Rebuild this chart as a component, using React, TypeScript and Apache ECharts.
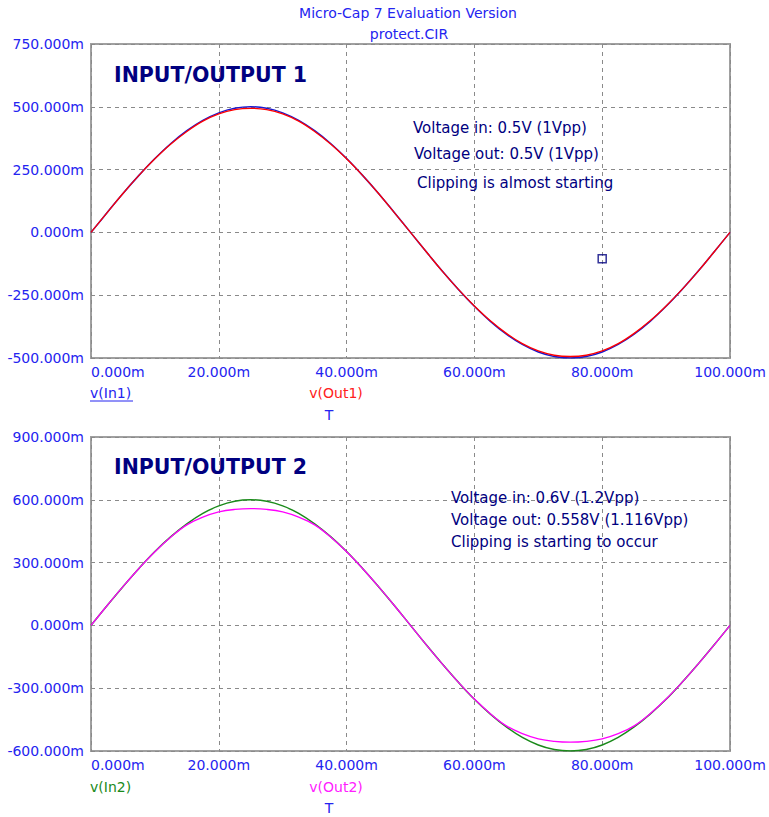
import React, { useEffect, useRef } from "react";
import * as echarts from "echarts";

// time in ms (milli-seconds, axis shows "m" suffix)
const times = [
  0, 2.5, 5, 7.5, 10, 12.5, 15, 17.5, 20, 22.5, 25, 27.5, 30, 32.5, 35, 37.5, 40, 42.5, 45, 47.5,
  50, 52.5, 55, 57.5, 60, 62.5, 65, 67.5, 70, 72.5, 75, 77.5, 80, 82.5, 85, 87.5, 90, 92.5, 95, 97.5, 100,
];

// values in mV
const in1 = [
  0, 78, 155, 227, 294, 354, 405, 446, 476, 494, 500, 494, 476, 446, 405, 354, 294, 227, 155, 78,
  0, -78, -155, -227, -294, -354, -405, -446, -476, -494, -500, -494, -476, -446, -405, -354, -294, -227, -155, -78, 0,
];
const out1 = [
  0, 78, 155, 227, 293, 352, 402, 443, 472, 489, 494, 489, 472, 443, 402, 352, 293, 227, 155, 78,
  0, -78, -155, -227, -293, -352, -402, -443, -472, -489, -494, -489, -472, -443, -402, -352, -293, -227, -155, -78, 0,
];
const in2 = [
  0, 94, 185, 272, 353, 424, 485, 535, 571, 593, 600, 593, 571, 535, 485, 424, 353, 272, 185, 94,
  0, -94, -185, -272, -353, -424, -485, -535, -571, -593, -600, -593, -571, -535, -485, -424, -353, -272, -185, -94, 0,
];
const out2 = [
  0, 94, 185, 272, 352, 422, 480, 517, 542, 554, 558, 554, 542, 517, 480, 422, 352, 272, 185, 94,
  0, -94, -185, -272, -352, -422, -480, -517, -542, -554, -558, -554, -542, -517, -480, -422, -352, -272, -185, -94, 0,
];

const cursorPoint = [80, -105];

const titleLines = ["Micro-Cap 7 Evaluation Version", "protect.CIR"];
const panelTitles = ["INPUT/OUTPUT 1", "INPUT/OUTPUT 2"];
const notes1 = ["Voltage in: 0.5V (1Vpp)", "Voltage out: 0.5V (1Vpp)", "Clipping is almost starting"];
const notes2 = ["Voltage in: 0.6V (1.2Vpp)", "Voltage out: 0.558V (1.116Vpp)", "Clipping is starting to occur"];
const legend1 = ["v(In1)", "v(Out1)", "T"];
const legend2 = ["v(In2)", "v(Out2)", "T"];

const FONT = '"DejaVu Sans", sans-serif';
const TICK_BLUE = "#2424f0";
const NAVY = "#000080";
const GRID_GRAY = "#8a8a8a";

function pairs(ys: number[]) {
  return times.map((t, i) => [t, ys[i]]);
}

export default function App() {
  const ref = useRef<HTMLDivElement>(null);
  useEffect(() => {
    if (!ref.current) return;
    const chart = echarts.init(ref.current, undefined, { renderer: "svg" });
    const fmt = (v: number) => `${v.toFixed(3)}m`;
    const xAxisBase = (gridIndex: number) => ({
      type: "value" as const,
      gridIndex,
      min: 0,
      max: 100,
      interval: 20,
      axisLine: { show: false },
      axisTick: { show: false },
      axisLabel: {
        color: TICK_BLUE,
        fontFamily: FONT,
        fontSize: 14,
        margin: 7,
        formatter: fmt,
        alignMinLabel: "left",
      },
      splitLine: { show: true, lineStyle: { color: GRID_GRAY, type: [4, 4], width: 1 } },
    });
    const yAxisBase = (gridIndex: number, min: number, max: number, interval: number) => ({
      type: "value" as const,
      gridIndex,
      min,
      max,
      interval,
      axisLine: { show: false },
      axisTick: { show: false },
      axisLabel: {
        color: TICK_BLUE,
        fontFamily: FONT,
        fontSize: 14,
        margin: 7,
        formatter: fmt,
      },
      splitLine: { show: true, lineStyle: { color: GRID_GRAY, type: [4, 4], width: 1 } },
    });

    const textEl = (text: string, x: number, y: number, fill: string, font: string, align = "left") => ({
      type: "text",
      x,
      y,
      style: { text, fill, font, align, verticalAlign: "middle" },
      z: 10,
    });

    const graphic: any[] = [
      textEl(titleLines[0], 408, 13, TICK_BLUE, `14px ${FONT}`, "center"),
      textEl(titleLines[1], 409, 34, TICK_BLUE, `14px ${FONT}`, "center"),
      textEl(panelTitles[0], 114, 75, NAVY, `bold 20.5px ${FONT}`),
      textEl(panelTitles[1], 114, 467, NAVY, `bold 20.5px ${FONT}`),
      textEl(notes1[0], 413, 128, NAVY, `15px ${FONT}`),
      textEl(notes1[1], 414, 154, NAVY, `15px ${FONT}`),
      textEl(notes1[2], 417, 183, NAVY, `15px ${FONT}`),
      textEl(notes2[0], 451, 498, NAVY, `15px ${FONT}`),
      textEl(notes2[1], 451, 520, NAVY, `15px ${FONT}`),
      textEl(notes2[2], 451, 542, NAVY, `15px ${FONT}`),
      textEl(legend1[0], 90, 393, TICK_BLUE, `14px ${FONT}`),
      {
        type: "line",
        shape: { x1: 90, y1: 401, x2: 133, y2: 401 },
        style: { stroke: TICK_BLUE, lineWidth: 1 },
      },
      textEl(legend1[1], 336, 393, "#ff2020", `14px ${FONT}`, "center"),
      textEl(legend1[2], 329, 415, TICK_BLUE, `14px ${FONT}`, "center"),
      textEl(legend2[0], 90, 787, "#1a8a1a", `14px ${FONT}`),
      textEl(legend2[1], 336, 787, "#ff20ff", `14px ${FONT}`, "center"),
      textEl(legend2[2], 329, 808, TICK_BLUE, `14px ${FONT}`, "center"),
    ];

    chart.setOption({
      animation: false,
      backgroundColor: "#ffffff",
      grid: [
        { left: 91, top: 44, width: 639, height: 314, show: true, borderColor: "#a0a0a0", borderWidth: 2, backgroundColor: "transparent" },
        { left: 91, top: 437, width: 639, height: 314, show: true, borderColor: "#a0a0a0", borderWidth: 2, backgroundColor: "transparent" },
      ],
      xAxis: [xAxisBase(0), xAxisBase(1)],
      yAxis: [yAxisBase(0, -500, 750, 250), yAxisBase(1, -600, 900, 300)],
      graphic,
      series: [
        {
          type: "line",
          name: "v(In1)",
          xAxisIndex: 0,
          yAxisIndex: 0,
          data: pairs(in1),
          showSymbol: false,
          smooth: 0.4,
          lineStyle: { color: "#1818d0", width: 1.5 },
        },
        {
          type: "line",
          name: "v(Out1)",
          xAxisIndex: 0,
          yAxisIndex: 0,
          data: pairs(out1),
          showSymbol: false,
          smooth: 0.4,
          lineStyle: { color: "#ff0000", width: 1.3 },
        },
        {
          type: "scatter",
          xAxisIndex: 0,
          yAxisIndex: 0,
          data: [cursorPoint],
          symbol: "rect",
          symbolSize: 8,
          itemStyle: { color: "transparent", borderColor: NAVY, borderWidth: 1.5 },
        },
        {
          type: "line",
          name: "v(In2)",
          xAxisIndex: 1,
          yAxisIndex: 1,
          data: pairs(in2),
          showSymbol: false,
          smooth: 0.4,
          lineStyle: { color: "#1a8a1a", width: 1.5 },
        },
        {
          type: "line",
          name: "v(Out2)",
          xAxisIndex: 1,
          yAxisIndex: 1,
          data: pairs(out2),
          showSymbol: false,
          smooth: 0.4,
          lineStyle: { color: "#ff00ff", width: 1.3 },
        },
      ],
    });
    return () => chart.dispose();
  }, []);
  return (
    <div
      ref={ref}
      style={{ position: "fixed", left: 0, top: 0, width: 769, height: 817, background: "#fff" }}
    />
  );
}
